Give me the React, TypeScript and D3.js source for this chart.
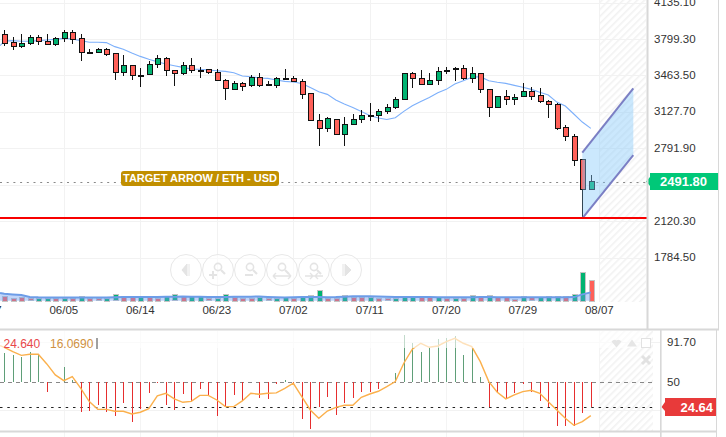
import React from "react";
import * as d3 from "d3";

const W = 726, H = 437;
const FONT = "'Liberation Sans', Arial, sans-serif";

const opens = [3842,3769,3738,3759,3815,3778,3756,3805,3861,3805,3679,3676,3704,3667,3492,3556,3470,3480,3566,3621,3510,3483,3556,3513,3520,3492,3418,3341,3390,3372,3446,3381,3372,3436,3436,3415,3298,3049,2975,3058,2926,3012,3058,3095,3095,3132,3169,3243,3483,3436,3381,3418,3510,3529,3529,3437,3483,3335,3169,3271,3243,3271,3317,3280,3224,3197,2985,2902,2690,2413];
const closes = [3765,3738,3759,3815,3778,3756,3805,3861,3802,3676,3676,3704,3664,3492,3556,3464,3464,3566,3621,3510,3483,3556,3510,3507,3492,3418,3344,3390,3363,3446,3372,3372,3436,3433,3415,3289,3049,2975,3068,2926,3012,3058,3095,3092,3132,3169,3243,3483,3436,3381,3418,3501,3501,3519,3436,3483,3335,3169,3271,3243,3261,3317,3271,3224,3197,2982,2902,2680,2413,2487];
const highs = [3882,3821,3845,3833,3836,3845,3821,3882,3882,3842,3704,3713,3713,3667,3649,3556,3529,3593,3649,3630,3510,3584,3621,3538,3523,3520,3427,3412,3406,3464,3483,3409,3446,3519,3461,3427,3298,3104,3077,3065,3077,3104,3141,3206,3151,3197,3267,3483,3492,3510,3483,3538,3538,3538,3556,3538,3483,3335,3274,3329,3289,3390,3354,3344,3234,3206,3009,2926,2690,2542];
const lows = [3735,3698,3719,3747,3747,3753,3738,3775,3756,3600,3664,3667,3646,3421,3458,3421,3360,3467,3535,3458,3366,3464,3483,3443,3474,3412,3240,3329,3323,3360,3360,3372,3347,3427,3406,3249,3049,2816,2945,2920,2816,3003,3022,3046,3037,3104,3157,3234,3344,3372,3372,3372,3473,3409,3418,3390,3304,3083,3169,3194,3194,3261,3234,3212,3074,2963,2856,2631,2146,2413];
const priceMA = [3738,3781,3784,3778,3778,3784,3790,3796,3805,3799,3784,3769,3769,3766,3729,3704,3670,3639,3612,3590,3569,3553,3538,3523,3520,3513,3507,3501,3489,3458,3452,3440,3436,3421,3409,3403,3390,3353,3313,3289,3237,3200,3169,3132,3095,3071,3058,3074,3132,3184,3224,3261,3304,3335,3384,3415,3446,3452,3415,3400,3390,3372,3354,3335,3308,3283,3218,3181,3108,3034,2976];
const volumes = [5,3,4,2.3,3,3,3,3,3,5,3,2.3,3,6.3,5,3.7,5,3.7,3,5,6.3,4.7,5,5,2.3,3,7,3.7,3,3,4,2.3,3,4,3,3.7,5.7,11,3,3,6,4,4,4,3,2.3,3,4,5,3.7,3.7,3.7,3,3,3,5.7,3.7,6,3.7,3.7,1.7,5,3.3,3.7,4.7,4.7,4.7,6.7,29,21];
const volumeRising = [0,0,0,0,1,1,0,1,0,1,0,0,1,1,0,0,1,0,0,1,1,0,1,1,0,1,1,0,0,0,1,0,1,1,0,1,1,1,0,0,1,0,0,1,0,0,1,1,1,0,0,1,0,1,0,1,0,1,0,0,0,1,0,1,1,1,0,1,1,0];
const volumeMA = [7.6,7,6.3,5.7,3.7,3.4,3.3,3.3,3.3,3.3,3.3,3.2,3.2,3.3,3.5,3.7,3.7,3.8,3.8,3.8,3.9,4,4.1,4,3.9,3.7,3.7,3.8,3.9,4,4,4.2,3.8,3.5,3.2,3.5,3.6,3.7,3.6,3.5,3.6,4,4.4,4.5,4.5,4.3,4,3.8,3.7,3.7,3.6,3.6,3.5,3.5,3.5,3.5,3.5,3.6,3.6,3.5,3.5,3.4,3.4,3.4,3.4,3.5,3.5,3.5,3.6,6.3,8.3];
const indicatorBars = [80,78.3,75.9,81.7,79.3,39.7,50.3,66.2,52.4,19,20.3,26.5,19,15.2,28.3,8.6,22.4,38.6,49,26.9,21.4,37.6,30.7,42.8,36.5,14.8,25.5,36.5,30.3,50,33.4,32.4,48.3,52.1,47.2,12.4,1.4,24.1,35.2,15.8,28.3,34.1,39.7,39.7,43.1,50,60,98.6,91,81,85.2,94.5,95.5,98,78.3,85.2,55.2,24.8,39.7,33.4,38.6,47.9,39.7,30.3,24.8,4.5,5.2,5.2,17.9,24.64];
const indicatorLine = [88,86.2,81.7,77.9,79,79,69,57.6,51.7,55.9,43.8,30,22,22,20,20,17.2,19,22.7,35.9,38.6,32.8,29.3,30.3,36.5,36.5,31.7,24.8,24.8,30.7,38.6,37.6,38.6,39,43.8,49,35.2,21.4,12.7,20.3,24.1,26.2,26.2,34.5,37.9,40.7,45.5,50.7,69.7,84.2,90.4,86.2,87.6,92.1,95.5,90.4,86.9,71.4,50.7,39.7,32.8,36.9,40.3,41.7,38.6,30,21.4,12.7,5.5,9.3,15.5];

const priceTicks = [4135.1, 3799.3, 3463.5, 3127.7, 2791.9, 2120.3, 1784.5];
const priceGrid = [4135.1, 3799.3, 3463.5, 3127.7, 2791.9, 2456.1, 2120.3, 1784.5];
const dateIndex = [-2, 7, 16, 25, 34, 43, 52, 61, 70];
const dateLabels = ["05/27", "06/05", "06/14", "06/23", "07/02", "07/11", "07/20", "07/29", "08/07"];
const lastPrice = 2481;
const lastPriceLabel = "2491.80";
const targetPrice = 2149;
const arrowTop = [[68, 2751], [74, 3344]];
const arrowBottom = [[68, 2146], [74, 2730]];
const indicatorTicks = [91.7, 50];
const indicatorGrid = [91.7, 21];

const RED = "#ff6058", GREEN = "#00b371";

const x = d3.scaleLinear().domain([0, 69]).range([4.3, 590.8]);
const yP = d3.scaleLinear().domain([3799.3, 1784.5]).range([39, 257.6]);
const yV = d3.scaleLinear().domain([0, 29]).range([300.7, 271.7]);
const yI = d3.scaleLinear().domain([50, 91.7]).range([382.3, 342]);
const px = (v: number) => Math.round(v) + 0.5;

const maLine = d3.line<number>().x((_, i) => x(i === 0 ? -0.5 : i - 1)).y(d => yP(d));
const volLine = d3.line<number>().x((_, i) => x(i === 0 ? -0.5 : i - 1)).y(d => yV(d));
const volArea = d3.area<number>().x((_, i) => x(i === 0 ? -0.5 : i - 1)).y0(yV(0)).y1(d => yV(d));
const indLine = d3.line<number>().x((_, i) => x(i === 0 ? -0.5 : i - 1)).y(d => yI(d));
const arrowLine = d3.line<number[]>().x(d => x(d[0])).y(d => yP(d[1]));
const arrowPoly = [...arrowTop, ...[...arrowBottom].reverse()];

const ICON = "#e4e4e4";
function NavButton({ cx, kind }: { cx: number; kind: string }) {
  const cy = 270;
  const lens = (
    <g fill="none" stroke={ICON} strokeWidth={1.6}>
      <circle cx={cx + 0} cy={cy - 3} r={3.6} />
      <path d={`M${cx + 3} ${cy}L${cx + 7} ${cy + 4}`} strokeWidth={2.2} />
    </g>
  );
  return (
    <g>
      <circle cx={cx} cy={cy} r={15.5} fill="#fff" fillOpacity={0.6} stroke="#e8e8e8" strokeWidth={1} />
      {kind === "left" && <path d={`M${cx + 1} ${cy - 6}V${cy + 6}L${cx - 4} ${cy}ZM${cx + 3} ${cy - 6}V${cy + 6}`} fill={ICON} stroke={ICON} strokeWidth={1} />}
      {kind === "right" && <path d={`M${cx - 1} ${cy - 6}V${cy + 6}L${cx + 5} ${cy}ZM${cx - 3} ${cy - 6}V${cy + 6}`} fill={ICON} stroke={ICON} strokeWidth={1} />}
      {kind !== "left" && kind !== "right" && lens}
      {kind === "plus" && <path d={`M${cx - 5} ${cy + 1}V${cy + 9}M${cx - 9} ${cy + 5}H${cx - 1}`} stroke={ICON} strokeWidth={2} />}
      {kind === "minus" && <path d={`M${cx - 5} ${cy + 5}H${cx + 3}`} stroke={ICON} strokeWidth={2} />}
      {kind === "wide" && <path d={`M${cx - 9} ${cy + 6}H${cx + 9}M${cx - 9} ${cy + 6}l3 -3M${cx - 9} ${cy + 6}l3 3M${cx + 9} ${cy + 6}l-3 -3M${cx + 9} ${cy + 6}l-3 3`} stroke={ICON} strokeWidth={1.4} fill="none" />}
      {kind === "narrow" && <path d={`M${cx - 9} ${cy + 6}H${cx + 9}M${cx - 1} ${cy + 6}l-3 -3M${cx - 1} ${cy + 6}l-3 3M${cx + 1} ${cy + 6}l3 -3M${cx + 1} ${cy + 6}l3 3`} stroke={ICON} strokeWidth={1.4} fill="none" />}
    </g>
  );
}
const navKinds = ["left", "plus", "minus", "wide", "narrow", "right"];
const navX = [186, 218, 250, 282, 314, 346];

export default function App() {
  return (
    <svg width={W} height={H} viewBox={`0 0 ${W} ${H}`} style={{ position: "fixed", left: 0, top: 0, background: "#fff", fontFamily: FONT }}>
      <defs>
        <pattern id="hatch" width={5} height={5} patternUnits="userSpaceOnUse" patternTransform="rotate(45)">
          <rect x={0} y={0} width={1.6} height={5} fill="#f2f2f2" />
        </pattern>
        <clipPath id="mainClip"><rect x={0} y={0} width={646} height={329} /></clipPath>
        <clipPath id="subClip"><rect x={0} y={331} width={660} height={100} /></clipPath>
      </defs>

      {/* hatch */}
      <rect x={599} y={0} width={47} height={302} fill="url(#hatch)" />
      <rect x={599} y={331} width={54} height={100} fill="url(#hatch)" />

      {/* grid */}
      {priceGrid.map(t => (
        <line key={t} x1={0} x2={646} y1={px(yP(t))} y2={px(yP(t))} stroke="#f2f2f2" />
      ))}
      {dateIndex.map(i => (
        <g key={i}>
          <line x1={px(x(i))} x2={px(x(i))} y1={0} y2={302} stroke="#f2f2f2" />
          <line x1={px(x(i))} x2={px(x(i))} y1={331} y2={437} stroke="#f4f4f4" />
        </g>
      ))}
      {indicatorGrid.map(t => (
        <line key={t} x1={0} x2={660} y1={px(yI(t))} y2={px(yI(t))} stroke="#f2f2f2" />
      ))}

      {/* last price line */}
      <line x1={0} x2={646} y1={px(yP(lastPrice))} y2={px(yP(lastPrice))} stroke="#888" strokeDasharray="2 4.7" />

      {/* volume */}
      {volumes.map((v, i) => (
        <rect key={i} x={px(x(i)) - 2.5} y={Math.round(yV(v)) + 0.5} width={5} height={Math.max(1, Math.round(yV(0) - yV(v)))} fill={volumeRising[i] ? GREEN : RED} stroke="#c4c4c4" shapeRendering="crispEdges" />
      ))}
      <path d={volArea(volumeMA)!} fill="#6b9cf0" fillOpacity={0.42} />
      <path d={volLine(volumeMA)!} fill="none" stroke="#6d9de8" strokeWidth={2} />

      {/* price MA */}
      <path d={maLine(priceMA)!} fill="none" stroke="#7db0fb" strokeWidth={1.1} clipPath="url(#mainClip)" />

      {/* candles */}
      {opens.map((o, i) => {
        const c = closes[i];
        const top = Math.round(yP(Math.max(o, c)));
        const bot = Math.round(yP(Math.min(o, c)));
        const cx = px(x(i));
        return (
          <g key={i} shapeRendering="crispEdges">
            <line x1={cx} x2={cx} y1={yP(highs[i])} y2={yP(lows[i])} stroke="#111" />
            <rect x={cx - 2.5} y={top + 0.5} width={5} height={Math.max(bot - top, 0.5)} fill={c >= o ? GREEN : RED} stroke="#111" />
          </g>
        );
      })}

      {/* target arrow */}
      <polygon points={arrowPoly.map(d => `${x(d[0])},${yP(d[1])}`).join(" ")} fill="#82c8fa" fillOpacity={0.42} />
      <path d={arrowLine(arrowTop)!} fill="none" stroke="#7b7fc4" strokeWidth={2} />
      <path d={arrowLine(arrowBottom)!} fill="none" stroke="#7b7fc4" strokeWidth={2} />

      {/* target line */}
      <line x1={0} x2={647} y1={yP(targetPrice)} y2={yP(targetPrice)} stroke="#f80000" strokeWidth={2} />

      {/* target label */}
      <rect x={121} y={171} width={158} height={15} rx={3} fill="#c18f00" />
      <text x={200} y={182.2} textAnchor="middle" fill="#fff" fontSize={11} fontWeight={700}>TARGET ARROW / ETH - USD</text>

      {/* navigation */}
      {navKinds.map((k, i) => <NavButton key={k} cx={navX[i]} kind={k} />)}

      {/* date axis */}
      {dateIndex.map((i, k) => (
        <text key={i} x={x(i)} y={314} textAnchor="middle" fontSize={11.5} fill="#333">{dateLabels[k]}</text>
      ))}

      {/* price axis */}
      {priceTicks.map(t => (
        <text key={t} x={654} y={yP(t) + 3.5} fontSize={11.5} fill="#333">{t.toFixed(2)}</text>
      ))}
      <path d="M646 181.5L650 177V173H718V190H650V186Z" fill="#00c878" />
      <text x={683.5} y={185.5} textAnchor="middle" fill="#fff" fontSize={13} fontWeight={700}>{lastPriceLabel}</text>

      {/* indicator */}
      <line x1={0} x2={653} y1={px(yI(50))} y2={px(yI(50))} stroke="#888" strokeDasharray="4 4" />
      <line x1={0} x2={653} y1={px(yI(24.64))} y2={px(yI(24.64))} stroke="#222" strokeDasharray="2.5 4.8" />
      {indicatorBars.map((v, i) => (
        <line key={i} x1={px(x(i))} x2={px(x(i))} y1={yI(50)} y2={yI(v)} stroke={v >= 50 ? "#5f9f78" : "#e62e2e"} strokeWidth={1} shapeRendering="crispEdges" />
      ))}
      <path d={indLine(indicatorLine)!} fill="none" stroke="#fbb04c" strokeWidth={1.4} clipPath="url(#subClip)" />
      <rect x={0} y={331} width={646} height={17} fill="#fff" fillOpacity={0.62} />

      <text x={3.5} y={348} fontSize={12} fill="#e8484a">24.640</text>
      <text x={50} y={348} fontSize={12} fill="#cf9142">16.0690</text>
      <rect x={96} y={338} width={2} height={11} fill="#a0a0a0" />

      {/* indicator icons */}
      <path d="M611.5 341.5q2.5 -3 5 -1q2.5 -2 5 1l-5 6Z" fill="#e6e6e6" />
      <path d="M627 346.5l5 -7l5 7Z" fill="#e6e6e6" />
      <rect x={641.5} y={338.5} width={9} height={9} fill="#fff" stroke="#e2e2e2" />
      <path d="M642 356l8 8M650 356l-8 8" stroke="#e2e2e2" strokeWidth={3} />

      {/* indicator axis */}
      {indicatorTicks.map(t => (
        <text key={t} x={667} y={yI(t) + 4} fontSize={11.5} fill="#333">{t === 50 ? "50" : t.toFixed(2)}</text>
      ))}
      <path d="M661.5 407L665 402V398H716V416H665V411Z" fill="#e83a3a" />
      <text x={713} y={411.5} textAnchor="end" fill="#fff" fontSize={13} fontWeight={700}>24.64</text>

      {/* panel frames */}
      <rect x={0} y={328.5} width={719} height={2} fill="#d8d8d8" />
      <rect x={0} y={430.5} width={717} height={2} fill="#d8d8d8" />
      <rect x={646.5} y={0} width={2} height={329} fill="#d8d8d8" />
      <rect x={718} y={0} width={1} height={329} fill="#d8d8d8" />
      <rect x={660} y={330} width={1.6} height={107} fill="#d8d8d8" />
      <rect x={716} y={330} width={1} height={107} fill="#d8d8d8" />
    </svg>
  );
}
